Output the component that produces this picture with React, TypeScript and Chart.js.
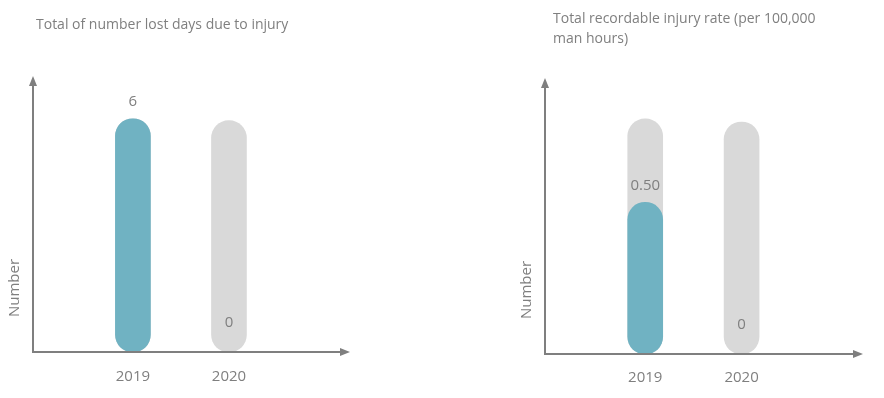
import React, { useEffect, useRef } from "react";
import { Chart, registerables } from "chart.js";

Chart.register(...registerables);

// ---------- data ----------
const categories = ["2019", "2020"];

const lostDaysValues = [6, 0];
const lostDaysTrack = [6, 5.95];
const lostDaysMax = 7.1;

const injuryRateValues = [0.5, 0];
const injuryRateTrack = [0.775, 0.765];
const injuryRateMax = 0.91;

const leftTitle = ["Total of number lost days due to injury"];
const rightTitle = ["Total recordable injury rate (per 100,000", "man hours)"];
const yAxisTitle = "Number";

// ---------- styles ----------
const TEAL = "#70b2c2";
const TRACK = "#d9d9d9";
const TEXT = "#7f7f7f";
const AXIS = "#7f7f7f";
const FONT = "'Open Sans', 'Noto Sans', sans-serif";

type PanelCfg = {
  left: number;
  values: number[];
  track: number[];
  yMax: number;
  title: string[];
  decimals: number;
  padding: { left: number; right: number; top: number };
  xHeight: number;
  tickPadding: number;
  titleX: number;
  titleY: number;
  yTitleX: number;
  yTitleY: number;
};

const panels: PanelCfg[] = [
  {
    left: 0,
    values: lostDaysValues,
    track: lostDaysTrack,
    yMax: lostDaysMax,
    title: leftTitle,
    decimals: 0,
    padding: { left: 33, right: 92, top: 76 },
    xHeight: 46,
    tickPadding: 16,
    titleX: 36,
    titleY: 25,
    yTitleX: 15,
    yTitleY: 288,
  },
  {
    left: 442,
    values: injuryRateValues,
    track: injuryRateTrack,
    yMax: injuryRateMax,
    title: rightTitle,
    decimals: 2,
    padding: { left: 103, right: 21, top: 78 },
    xHeight: 44,
    tickPadding: 15,
    titleX: 111,
    titleY: 19,
    yTitleX: 85,
    yTitleY: 290,
  },
];

function makeDecor(cfg: PanelCfg) {
  return {
    id: "decor",
    afterDatasetsDraw(chart: any) {
      const { ctx, chartArea: a } = chart;
      ctx.save();
      // axes
      ctx.strokeStyle = AXIS;
      ctx.fillStyle = AXIS;
      ctx.lineWidth = 2;
      ctx.beginPath();
      ctx.moveTo(a.left, a.top + 8);
      ctx.lineTo(a.left, a.bottom);
      ctx.lineTo(a.right - 8, a.bottom);
      ctx.stroke();
      ctx.beginPath();
      ctx.moveTo(a.left, a.top);
      ctx.lineTo(a.left - 4, a.top + 10);
      ctx.lineTo(a.left + 4, a.top + 10);
      ctx.closePath();
      ctx.fill();
      ctx.beginPath();
      ctx.moveTo(a.right, a.bottom);
      ctx.lineTo(a.right - 10, a.bottom - 4);
      ctx.lineTo(a.right - 10, a.bottom + 4);
      ctx.closePath();
      ctx.fill();

      // title
      ctx.fillStyle = TEXT;
      ctx.font = `14px ${FONT}`;
      ctx.textAlign = "left";
      ctx.textBaseline = "middle";
      cfg.title.forEach((line, i) => ctx.fillText(line, cfg.titleX, cfg.titleY + i * 20));

      // data labels
      ctx.font = `15px ${FONT}`;
      ctx.textAlign = "center";
      const meta = chart.getDatasetMeta(0);
      meta.data.forEach((bar: any, i: number) => {
        const v = cfg.values[i];
        const txt = v === 0 ? "0" : v.toFixed(cfg.decimals);
        const y = v > 0 ? bar.y - 17 : a.bottom - 29;
        ctx.fillText(txt, bar.x, y);
      });

      // y title
      ctx.translate(cfg.yTitleX, cfg.yTitleY);
      ctx.rotate(-Math.PI / 2);
      ctx.font = `15px ${FONT}`;
      ctx.fillText(yAxisTitle, 0, 0);
      ctx.restore();
    },
  };
}

function Panel({ cfg }: { cfg: PanelCfg }) {
  const ref = useRef<HTMLCanvasElement | null>(null);
  useEffect(() => {
    if (!ref.current) return;
    const chart = new Chart(ref.current, {
      type: "bar",
      data: {
        datasets: [
          {
            data: categories.map((_, i) => ({ x: i, y: cfg.values[i] })),
            backgroundColor: TEAL,
            borderRadius: 18,
            borderSkipped: false,
            barThickness: 35,
            grouped: false,
            order: 0,
          },
          {
            data: categories.map((_, i) => ({ x: i, y: cfg.track[i] })),
            backgroundColor: TRACK,
            borderRadius: 18,
            borderSkipped: false,
            barThickness: 35,
            grouped: false,
            order: 1,
          },
        ],
      } as any,
      options: {
        animation: false,
        responsive: false,
        maintainAspectRatio: false,
        layout: { padding: { left: cfg.padding.left, right: cfg.padding.right, top: cfg.padding.top, bottom: 0 } },
        plugins: { legend: { display: false }, tooltip: { enabled: false }, title: { display: false } },
        scales: {
          x: {
            type: "linear",
            min: -1.04,
            max: 2.26,
            offset: false,
            grid: { display: false, drawTicks: false },
            border: { display: false },
            afterBuildTicks: (s: any) => {
              s.ticks = categories.map((_, i) => ({ value: i }));
            },
            afterFit: (s: any) => {
              s.height = cfg.xHeight;
            },
            ticks: {
              autoSkip: false,
              maxRotation: 0,
              padding: cfg.tickPadding,
              color: TEXT,
              font: { family: FONT, size: 15 },
              callback: (v: any) => categories[v] ?? "",
            },
          },
          y: {
            display: false,
            min: 0,
            max: cfg.yMax,
          },
        },
      } as any,
      plugins: [makeDecor(cfg)],
    });
    return () => chart.destroy();
  }, [cfg]);
  return (
    <canvas
      ref={ref}
      width={442}
      height={398}
      style={{ position: "absolute", left: cfg.left, top: 0, width: 442, height: 398 }}
    />
  );
}

export default function App() {
  return (
    <div style={{ position: "absolute", left: 0, top: 0, width: 884, height: 398, background: "#fff" }}>
      {panels.map((p, i) => (
        <Panel key={i} cfg={p} />
      ))}
    </div>
  );
}
